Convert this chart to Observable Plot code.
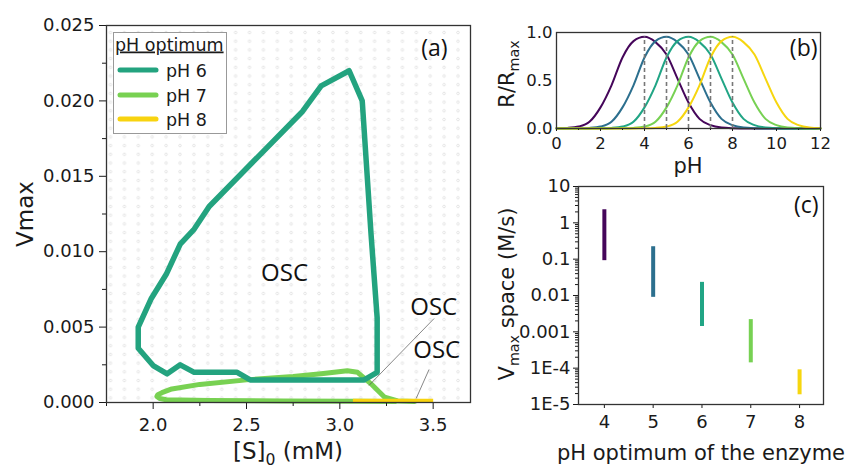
<!DOCTYPE html>
<html><head><meta charset="utf-8">
<script src="https://cdn.jsdelivr.net/npm/d3@7"></script>
<script src="https://cdn.jsdelivr.net/npm/@observablehq/plot@0.6"></script>
<style>
body{margin:0;background:#fff;}
#wrap{position:relative;width:846px;height:468px;overflow:hidden;background:#fff;}
.panel{position:absolute;}
#overlay{position:absolute;left:0;top:0;pointer-events:none;}
</style></head><body><div id="wrap"></div>
<script>
// ---------- Panel (a) data ----------
const seriesA = ["pH 6", "pH 7", "pH 8"];
const colorsA = ["#23a37f", "#78d152", "#f8d30f"];
const ph6S = [3.13, 2.52, 2.45, 2.22, 2.145, 2.075, 2.0, 1.92, 1.92, 1.99, 2.07, 2.145, 2.22, 2.3, 2.8, 2.9, 3.05, 3.12, 3.167, 3.2, 3.2, 3.13];
const ph6V = [0.0015, 0.0015, 0.0020, 0.0020, 0.0025, 0.0019, 0.00245, 0.0036, 0.0050, 0.0069, 0.0085, 0.0105, 0.0115, 0.0130, 0.0193, 0.0210, 0.0220, 0.0200, 0.0112, 0.0056, 0.0020, 0.0015];
const ph7S = [3.40, 3.31, 3.24, 3.167, 3.095, 3.04, 2.9, 2.75, 2.5, 2.25, 2.1, 2.047, 2.025, 2.02, 2.035, 2.07, 2.3, 2.7, 3.1, 3.3];
const ph7V = [0.00006, 0.0001, 0.00035, 0.00124, 0.0020, 0.0021, 0.0019, 0.00172, 0.0015, 0.0012, 0.0009, 0.00065, 0.00052, 0.0004, 0.00026, 0.00018, 0.00013, 0.0001, 0.00008, 0.00007];
const ph8S = [3.07, 3.5];
const ph8V = [0.00012, 0.00012];
const xMajorA = [2.0, 2.5, 3.0, 3.5];
const xMinorA = [1.75, 2.25, 2.75, 3.25];
const yMajorA = [0, 0.005, 0.01, 0.015, 0.02, 0.025];
const yMinorA = [0.0025, 0.0075, 0.0125, 0.0175, 0.0225];
const oscText = ["OSC", "OSC", "OSC"];
const oscX = [2.704, 3.503, 3.519];
const oscY = [0.00855, 0.0063, 0.00345];
const leadX1 = [3.505, 3.478], leadY1 = [0.00557, 0.00219];
const leadX2 = [3.156, 3.409], leadY2 = [0.00113, 0.00027];

// ---------- Panel (b) data ----------
const pHgrid = [0,0.5,1,1.5,2,2.5,3,3.5,4,4.5,5,5.5,6,6.5,7,7.5,8,8.5,9,9.5,10,10.5,11,11.5,12];
const optB = [4, 5, 6, 7, 8];
const colorsB = ["#45065a", "#2c6f8e", "#21a585", "#77d153", "#f6d60f"];
const r4 = [0.002,0.006,0.02,0.07,0.22,0.45,0.74,0.91,0.955,0.90,0.77,0.52,0.27,0.10,0.035,0.01,0.003,0.001,0,0,0,0,0,0,0];
const r5 = [0,0.001,0.002,0.006,0.02,0.07,0.22,0.45,0.74,0.91,0.955,0.90,0.77,0.52,0.27,0.10,0.035,0.01,0.003,0.001,0,0,0,0,0];
const r6 = [0,0,0,0.001,0.002,0.006,0.02,0.07,0.22,0.45,0.74,0.91,0.955,0.90,0.77,0.52,0.27,0.10,0.035,0.01,0.003,0.001,0,0,0];
const r7 = [0,0,0,0,0,0.001,0.002,0.006,0.02,0.07,0.22,0.45,0.74,0.91,0.955,0.90,0.77,0.52,0.27,0.10,0.035,0.01,0.003,0.001,0];
const r8 = [0,0,0,0,0,0,0,0.001,0.002,0.006,0.02,0.07,0.22,0.45,0.74,0.91,0.955,0.90,0.77,0.52,0.27,0.10,0.035,0.01,0.003];
const peakB = [0.955, 0.955, 0.955, 0.955, 0.955];
const xTicksB = [0, 2, 4, 6, 8, 10, 12];
const xMinorB = [1, 3, 5, 7, 9, 11];
const yTicksB = [0, 0.5, 1];

// ---------- Panel (c) data ----------
const optC = [4, 5, 6, 7, 8];
const vLow = [0.091, 0.0089, 0.0014, 0.00014, 0.0000185];
const vHigh = [2.29, 0.22, 0.023, 0.00217, 0.00009];
const yTicksC = [1e-5, 1e-4, 1e-3, 1e-2, 1e-1, 1, 10];
const yLabelsC = ["1E-5", "1E-4", "0.001", "0.01", "0.1", "1", "10"];
const xTicksC = [4, 5, 6, 7, 8];

// ---------- build tables ----------
const toRows = (xs, ys, s) => xs.map((x, i) => ({x, y: ys[i], s}));
const rowsA = [toRows(ph6S, ph6V, "pH 6"), toRows(ph7S, ph7V, "pH 7"), toRows(ph8S, ph8V, "pH 8")];
const osc = oscText.map((t, i) => ({t, x: oscX[i], y: oscY[i]}));
const leads = leadX1.map((x, i) => ({x1: x, y1: leadY1[i], x2: leadX2[i], y2: leadY2[i]}));
const curvesB = [r4, r5, r6, r7, r8].flatMap((arr, k) => arr.map((v, i) => ({pH: pHgrid[i], r: v, opt: optB[k]})));
const barsC = optC.map((p, i) => ({p, lo: vLow[i], hi: vHigh[i]}));

const baseStyle = (fs) => ({fontFamily: "DejaVu Sans", fontSize: fs, color: "#1a1a1a", background: "transparent", overflow: "visible"});

const defsMark = () => {
  const d = d3.create("svg:defs");
  const p = d.append("pattern").attr("id", "dotsA").attr("patternUnits", "userSpaceOnUse")
    .attr("x", 103.05).attr("y", 27.65).attr("width", 13.9).attr("height", 8.7);
  p.append("circle").attr("cx", 6.95).attr("cy", 4.35).attr("r", 1.3)
    .attr("fill", "none").attr("stroke", "#d4d4d4").attr("stroke-width", 0.6);
  return d.node();
};

const A = Plot.plot({
  width: 480, height: 468,
  marginLeft: 106, marginRight: 10, marginTop: 25, marginBottom: 66,
  style: baseStyle("18px"),
  x: {domain: [1.75, 3.7], label: null},
  y: {domain: [0, 0.025], label: null},
  marks: [
    defsMark,
    Plot.frame({fill: "url(#dotsA)", stroke: "none"}),
    Plot.line(rowsA[1], {x: "x", y: "y", stroke: colorsA[1], strokeWidth: 5, strokeLinejoin: "round", strokeLinecap: "round"}),
    Plot.line(rowsA[2], {x: "x", y: "y", stroke: colorsA[2], strokeWidth: 4, strokeLinecap: "butt"}),
    Plot.line(rowsA[0], {x: "x", y: "y", stroke: colorsA[0], strokeWidth: 5.5, strokeLinejoin: "round"}),
    Plot.link(leads, {x1: "x1", y1: "y1", x2: "x2", y2: "y2", stroke: "#555", strokeWidth: 0.7}),
    Plot.text(osc, {x: "x", y: "y", text: "t", fontFamily: "Open Sans", fontSize: 24, fill: "#111"}),
    Plot.text(["(a)"], {text: d => d, frameAnchor: "top-right", dx: -23, dy: 14, fontFamily: "Open Sans", fontSize: 23, fill: "#111"}),
    Plot.axisX(xMajorA, {tickSize: 7, tickPadding: 9, tickFormat: d3.format(".1f"), label: null}),
    Plot.axisX(xMinorA, {tickSize: 4, fill: "none", label: null}),
    Plot.axisY(yMajorA, {tickSize: 7, tickPadding: 5, tickFormat: d3.format(".3f"), label: null}),
    Plot.axisY(yMinorA, {tickSize: 4, fill: "none", label: null}),
    Plot.frame({stroke: "#333", strokeWidth: 1.3})
  ]
});

const B = Plot.plot({
  width: 366, height: 180,
  marginLeft: 76, marginRight: 26, marginTop: 32, marginBottom: 52,
  style: baseStyle("16.5px"),
  x: {domain: [0, 12], label: null},
  y: {domain: [0, 1], label: null},
  marks: [
    Plot.line(curvesB, {x: "pH", y: "r", z: "opt", stroke: d => colorsB[optB.indexOf(d.opt)], strokeWidth: 2, curve: "monotone-x"}),
    Plot.ruleX(optB.map((o, i) => ({o, top: peakB[i]})), {x: "o", y1: 0, y2: "top", stroke: "#777", strokeWidth: 1.6, strokeDasharray: "4,3"}),
    Plot.text(["(b)"], {text: d => d, frameAnchor: "top-right", dx: -3, dy: 7, fontFamily: "Open Sans", fontSize: 23, fill: "#111"}),
    Plot.axisX(xTicksB, {tickSize: 3, tickPadding: 6, tickFormat: d3.format("d"), label: null}),
    Plot.axisX(xMinorB, {tickSize: 2, fill: "none", label: null}),
    Plot.axisY(yTicksB, {tickSize: 0, tickPadding: 4, tickFormat: d3.format(".1f"), label: null}),
    Plot.frame({stroke: "#333", strokeWidth: 1.3})
  ]
});

const yMinorC = [];
[1e-5, 1e-4, 1e-3, 1e-2, 1e-1, 1].forEach(dec => [2,3,4,5,6,7,8,9].forEach(m => yMinorC.push(dec * m)));

const C = Plot.plot({
  width: 366, height: 288,
  marginLeft: 98, marginRight: 23, marginTop: 6, marginBottom: 64,
  style: baseStyle("18px"),
  x: {domain: [3.47, 8.49], label: null},
  y: {type: "log", domain: [1e-5, 10], label: null},
  marks: [
    Plot.ruleX(barsC, {x: "p", y1: "lo", y2: "hi", stroke: d => colorsB[optB.indexOf(d.p)], strokeWidth: 4}),
    Plot.text(["(c)"], {text: d => d, frameAnchor: "top-right", dx: -5, dy: 10, fontFamily: "Open Sans", fontSize: 23, fill: "#111"}),
    Plot.axisX(xTicksC, {tickSize: 4, tickPadding: 7, tickFormat: d3.format("d"), label: null}),
    Plot.axisY(yTicksC, {tickSize: 5, tickPadding: 3, tickFormat: d => yLabelsC[yTicksC.indexOf(d)], label: null}),
    Plot.axisY(yMinorC, {tickSize: 3, fill: "none", label: null}),
    Plot.frame({stroke: "#333", strokeWidth: 1.3})
  ]
});

const wrap = document.getElementById("wrap");
[[A, 0, 0], [B, 480, 0], [C, 480, 180]].forEach(([el, l, t]) => {
  el.classList.add("panel");
  el.style.left = l + "px";
  el.style.top = t + "px";
  el.style.maxWidth = "none";
  wrap.appendChild(el);
});

// ---------- overlay: axis titles and legend ----------
const ov = d3.select(wrap).append("svg").attr("id", "overlay").attr("width", 846).attr("height", 468)
  .style("font-family", "DejaVu Sans").style("fill", "#1a1a1a");

// parts: [text, kind] where kind 0 = normal, 1 = subscript, 2 = normal after a subscript
function title(x, y, parts, size, rotate, anchor = "middle") {
  const t = ov.append("text").attr("text-anchor", anchor).attr("font-size", size)
    .attr("transform", `translate(${x},${y})` + (rotate ? " rotate(-90)" : ""));
  parts.forEach(([s, kind]) => {
    t.append("tspan").text(s).attr("font-size", kind === 1 ? size * 0.68 : size)
      .attr("dy", kind === 1 ? size * 0.25 : kind === 2 ? -size * 0.25 : 0);
  });
}
title(33, 214, [["Vmax", 0]], 23, true);
title(288, 459, [["[S]", 0], ["0", 1], [" (mM)", 2]], 23, false);
title(514, 74, [["R/R", 0], ["max", 1]], 21, true);
title(688, 173, [["pH", 0]], 21, false);
title(514, 294, [["V", 0], ["max", 1], [" space (M/s)", 2]], 21, true);
title(701, 460, [["pH optimum of the enzyme", 0]], 21, false);

// legend
const lg = ov.append("g");
lg.append("rect").attr("x", 113.5).attr("y", 32.5).attr("width", 113).attr("height", 101)
  .attr("fill", "#fff").attr("stroke", "#999").attr("stroke-width", 1);
lg.append("text").attr("x", 115).attr("y", 50.5).attr("font-size", 17.5)
  .attr("text-decoration", "underline").text("pH optimum");
const legY = [70, 95, 119];
seriesA.forEach((s, i) => {
  lg.append("line").attr("x1", 120).attr("x2", 156).attr("y1", legY[i]).attr("y2", legY[i])
    .attr("stroke", colorsA[i]).attr("stroke-width", 5).attr("stroke-linecap", "round");
  lg.append("text").attr("x", 166).attr("y", legY[i] + 7).attr("font-size", 17.5).text(s);
});
</script></body></html>
